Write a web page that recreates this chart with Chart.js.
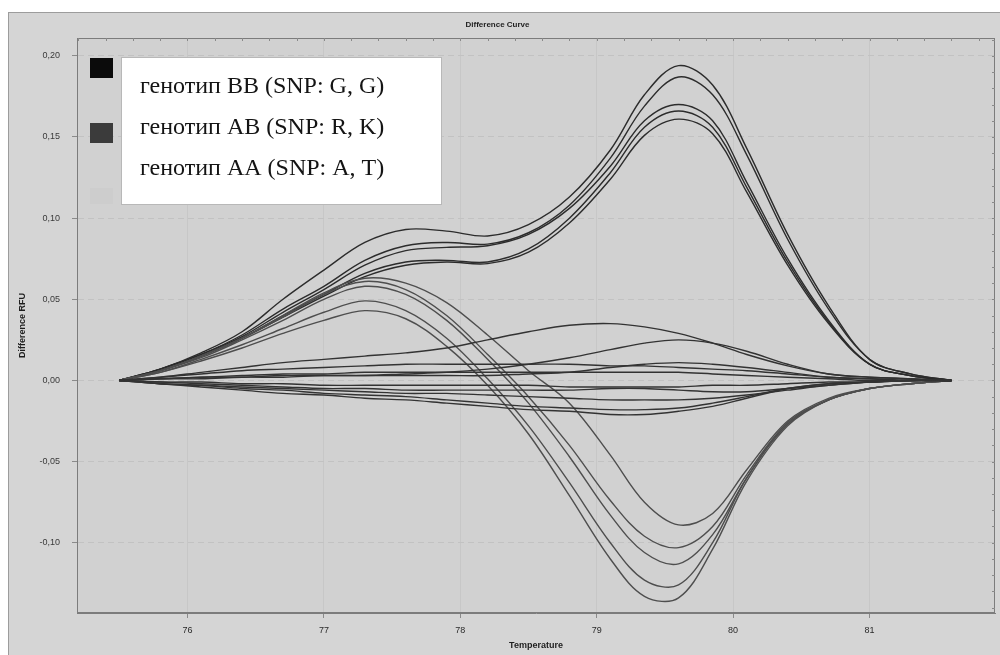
<!DOCTYPE html>
<html>
<head>
<meta charset="utf-8">
<title>Difference Curve</title>
<script src="https://cdn.jsdelivr.net/npm/chart.js@4.4.0/dist/chart.umd.min.js"></script>
<style>
    html, body { margin: 0; padding: 0; background: #fff; }
    #wrap { width: 1000px; height: 655px; }
</style>
</head>
<body>
<div id="wrap"><canvas id="chart" width="1000" height="655"></canvas></div>
<script>
// temperatures (deg C) shared by every melt curve
const temps = [75.5, 75.8, 76.1, 76.4, 76.7, 77.0, 77.3, 77.6, 77.9, 78.2, 78.5, 78.8, 79.1, 79.35, 79.6, 79.85, 80.1, 80.4, 80.7, 81.0, 81.3, 81.6];

// genotype BB: shoulder near 77.7, big peak near 79.6
const bb1 = [0, 0.007, 0.017, 0.030, 0.050, 0.068, 0.085, 0.093, 0.092, 0.089, 0.096, 0.113, 0.142, 0.176, 0.194, 0.182, 0.143, 0.090, 0.046, 0.013, 0.004, 0];
const bb2 = [0, 0.007, 0.016, 0.028, 0.044, 0.058, 0.074, 0.083, 0.085, 0.084, 0.091, 0.108, 0.137, 0.169, 0.187, 0.176, 0.139, 0.087, 0.044, 0.013, 0.004, 0];
const bb3 = [0, 0.007, 0.016, 0.027, 0.042, 0.056, 0.071, 0.080, 0.082, 0.083, 0.090, 0.106, 0.132, 0.160, 0.170, 0.160, 0.122, 0.075, 0.037, 0.010, 0.003, 0];
const bb4 = [0, 0.006, 0.015, 0.026, 0.040, 0.053, 0.066, 0.073, 0.074, 0.073, 0.081, 0.100, 0.128, 0.156, 0.166, 0.156, 0.119, 0.073, 0.036, 0.010, 0.003, 0];
const bb5 = [0, 0.006, 0.015, 0.026, 0.039, 0.052, 0.064, 0.071, 0.073, 0.072, 0.079, 0.097, 0.124, 0.151, 0.161, 0.152, 0.116, 0.071, 0.035, 0.010, 0.003, 0];

// genotype AB: small peak near 77.3, deep dip near 79.55
const ab1 = [0, 0.006, 0.015, 0.026, 0.040, 0.054, 0.063, 0.060, 0.048, 0.028, 0.006, -0.014, -0.046, -0.075, -0.089, -0.082, -0.055, -0.025, -0.011, -0.005, -0.002, 0];
const ab2 = [0, 0.006, 0.015, 0.026, 0.039, 0.053, 0.061, 0.056, 0.040, 0.016, -0.010, -0.040, -0.074, -0.096, -0.103, -0.090, -0.058, -0.026, -0.012, -0.005, -0.002, 0];
const ab3 = [0, 0.006, 0.014, 0.025, 0.037, 0.050, 0.058, 0.053, 0.037, 0.013, -0.014, -0.047, -0.083, -0.106, -0.113, -0.095, -0.060, -0.027, -0.012, -0.005, -0.002, 0];
const ab4 = [0, 0.005, 0.013, 0.022, 0.032, 0.042, 0.049, 0.043, 0.026, 0.001, -0.028, -0.063, -0.100, -0.123, -0.126, -0.100, -0.060, -0.027, -0.012, -0.005, -0.002, 0];
const ab5 = [0, 0.005, 0.012, 0.020, 0.029, 0.037, 0.043, 0.038, 0.021, -0.003, -0.033, -0.071, -0.110, -0.133, -0.134, -0.104, -0.062, -0.028, -0.012, -0.005, -0.002, 0];

// genotype AA: close to the reference, stays near zero
const aa1 = [0, 0.002, 0.005, 0.008, 0.011, 0.013, 0.015, 0.017, 0.020, 0.025, 0.030, 0.034, 0.035, 0.033, 0.029, 0.023, 0.016, 0.009, 0.004, 0.002, 0.001, 0];
const aa2 = [0, 0.001, 0.001, 0.002, 0.002, 0.003, 0.003, 0.004, 0.005, 0.007, 0.010, 0.014, 0.019, 0.023, 0.025, 0.023, 0.018, 0.010, 0.004, 0.002, 0.001, 0];
const aa3 = [0, 0.001, 0.002, 0.002, 0.003, 0.003, 0.003, 0.003, 0.003, 0.003, 0.004, 0.005, 0.008, 0.010, 0.011, 0.010, 0.008, 0.005, 0.002, 0.001, 0, 0];
const aa4 = [0, -0.002, -0.004, -0.006, -0.008, -0.009, -0.011, -0.012, -0.014, -0.016, -0.018, -0.019, -0.021, -0.021, -0.019, -0.016, -0.011, -0.005, -0.002, -0.001, 0, 0];
const aa5 = [0, -0.002, -0.003, -0.005, -0.006, -0.008, -0.009, -0.010, -0.012, -0.014, -0.016, -0.017, -0.018, -0.018, -0.017, -0.014, -0.010, -0.005, -0.002, -0.001, 0, 0];
const aa6 = [0, 0.002, 0.004, 0.006, 0.007, 0.008, 0.009, 0.010, 0.010, 0.010, 0.010, 0.010, 0.009, 0.009, 0.008, 0.007, 0.006, 0.004, 0.002, 0.001, 0, 0];
const aa7 = [0, 0.001, 0.002, 0.003, 0.004, 0.004, 0.005, 0.005, 0.005, 0.005, 0.005, 0.005, 0.005, 0.005, 0.005, 0.004, 0.003, 0.002, 0.001, 0, 0, 0];
const aa8 = [0, -0.001, -0.001, -0.002, -0.002, -0.003, -0.003, -0.003, -0.003, -0.003, -0.003, -0.004, -0.004, -0.004, -0.004, -0.003, -0.003, -0.002, -0.001, -0.001, 0, 0];
const aa9 = [0, -0.001, -0.002, -0.003, -0.004, -0.005, -0.005, -0.006, -0.006, -0.006, -0.006, -0.006, -0.005, -0.005, -0.006, -0.007, -0.007, -0.005, -0.003, -0.001, 0, 0];
const aa10 = [0, -0.002, -0.003, -0.004, -0.005, -0.006, -0.007, -0.008, -0.008, -0.009, -0.010, -0.011, -0.012, -0.012, -0.012, -0.011, -0.009, -0.006, -0.003, -0.001, 0, 0];

const xTicks = [76, 77, 78, 79, 80, 81];
const yTicks = [-0.10, -0.05, 0, 0.05, 0.10, 0.15, 0.20];
const legendLabels = ['генотип BB (SNP: G, G)', 'генотип AB (SNP: R, K)', 'генотип AA (SNP: A, T)'];
const legendSwatches = ['#0b0b0b', '#3b3b3b', '#cdcdcd'];

const groups = [
    { name: 'AA', color: '#333333', curves: [aa1, aa2, aa3, aa4, aa5, aa6, aa7, aa8, aa9, aa10] },
    { name: 'AB', color: '#4e4e4e', curves: [ab1, ab2, ab3, ab4, ab5] },
    { name: 'BB', color: '#2c2c2c', curves: [bb1, bb2, bb3, bb4, bb5] }
];

const datasets = [];
groups.forEach(g => {
    g.curves.forEach((vals, i) => {
        datasets.push({
            label: `${g.name} ${i + 1}`,
            data: temps.map((t, k) => ({ x: t, y: vals[k] })),
            borderColor: g.color,
            borderWidth: 1.4,
            pointRadius: 0,
            tension: 0.35,
            fill: false
        });
    });
});

const fmtComma = v => v.toFixed(2).replace('.', ',');

// frame, plot box, minor ticks and the pasted-in legend
const framePlugin = {
    id: 'frame',
    beforeDraw(chart) {
        const { ctx, chartArea: a, width, height } = chart;
        ctx.save();
        ctx.fillStyle = '#ffffff';
        ctx.fillRect(0, 0, width, height);
        ctx.fillStyle = '#d5d5d5';
        ctx.fillRect(8, 12, width - 8, height - 12);
        ctx.strokeStyle = '#9c9c9c';
        ctx.lineWidth = 1;
        ctx.strokeRect(8.5, 12.5, width, height);
        ctx.fillStyle = '#d1d1d1';
        ctx.fillRect(a.left, a.top, a.right - a.left, a.bottom - a.top);
        ctx.restore();
    },
    afterDraw(chart) {
        const { ctx, chartArea: a, scales } = chart;
        ctx.save();
        ctx.strokeStyle = '#7c7c7c';
        ctx.lineWidth = 1;
        ctx.strokeRect(a.left + 0.5, a.top + 0.5, a.right - a.left - 1, a.bottom - a.top - 1);

        ctx.strokeStyle = '#8a8a8a';
        ctx.beginPath();
        for (let t = 75.2; t < 81.95; t += 0.2) {
            const x = Math.round(scales.x.getPixelForValue(t)) + 0.5;
            ctx.moveTo(x, a.top);
            ctx.lineTo(x, a.top + 3);
        }
        for (let v = -0.14; v < 0.211; v += 0.01) {
            const y = Math.round(scales.y.getPixelForValue(v)) + 0.5;
            ctx.moveTo(a.right - 3, y);
            ctx.lineTo(a.right, y);
        }
        ctx.stroke();

        // legend
        const sw = [[90, 58, 23, 20], [90, 123, 23, 20], [90, 188, 23, 16]];
        legendSwatches.forEach((c, i) => {
            ctx.fillStyle = c;
            ctx.fillRect(...sw[i]);
        });
        ctx.fillStyle = '#ffffff';
        ctx.fillRect(121, 57, 320, 147);
        ctx.strokeStyle = '#b8b8b8';
        ctx.strokeRect(121.5, 57.5, 320, 147);
        ctx.fillStyle = '#141414';
        ctx.font = '24px "Liberation Serif", "Times New Roman", serif';
        ctx.textBaseline = 'alphabetic';
        ctx.textAlign = 'left';
        const baselines = [93, 134, 175];
        legendLabels.forEach((txt, i) => ctx.fillText(txt, 140, baselines[i]));
        ctx.restore();
    }
};

const axisFont = { family: 'Liberation Sans, Arial, sans-serif', size: 9 };
const titleFont = { family: 'Liberation Sans, Arial, sans-serif', size: 9, weight: 'bold' };

new Chart(document.getElementById('chart'), {
    type: 'line',
    data: { datasets },
    options: {
        responsive: false,
        animation: false,
        devicePixelRatio: 1,
        layout: { padding: { left: 0, right: 5, top: 10.4, bottom: 0 } },
        plugins: {
            legend: { display: false },
            tooltip: { enabled: false },
            title: {
                display: true,
                text: 'Difference Curve',
                color: '#1e1e1e',
                font: { family: 'Liberation Sans, Arial, sans-serif', size: 8, weight: 'bold' },
                padding: { top: 10, bottom: 8 }
            }
        },
        scales: {
            x: {
                type: 'linear',
                min: 75.19,
                max: 81.92,
                afterBuildTicks: s => { s.ticks = xTicks.map(v => ({ value: v })); },
                afterFit: s => { s.height = 42; },
                ticks: { font: axisFont, color: '#2a2a2a', padding: 7, callback: v => String(v) },
                grid: { color: '#c7c7c7', tickColor: '#8a8a8a', tickLength: 5 },
                border: { display: true, color: '#7c7c7c' },
                title: { display: true, text: 'Temperature', font: titleFont, color: '#1e1e1e', padding: { top: 0, bottom: 4 } }
            },
            y: {
                min: -0.1433,
                max: 0.211,
                afterBuildTicks: s => { s.ticks = yTicks.map(v => ({ value: v })); },
                afterFit: s => { s.width = 77; },
                ticks: { font: axisFont, color: '#3a3a3a', padding: 12, callback: v => fmtComma(v) },
                grid: { color: '#c2c2c2', tickColor: '#8a8a8a', tickLength: 5 },
                border: { display: true, color: '#7c7c7c', dash: [6, 4] },
                title: { display: true, text: 'Difference RFU', font: titleFont, color: '#1e1e1e', padding: { top: 17, bottom: 0 } }
            }
        }
    },
    plugins: [framePlugin]
});
</script>
</body>
</html>
